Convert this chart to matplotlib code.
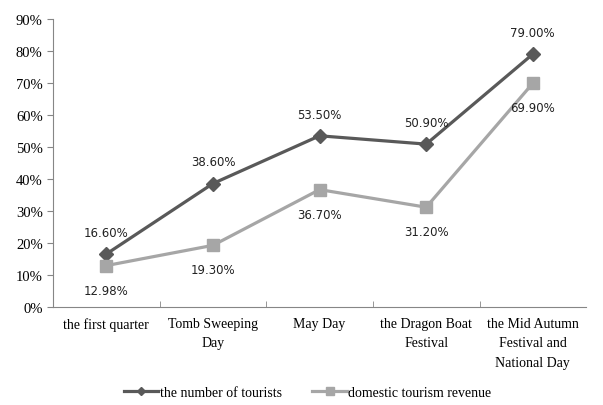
import matplotlib.pyplot as plt
import numpy as np

categories = ["the first quarter", "Tomb Sweeping\nDay", "May Day",
              "the Dragon Boat\nFestival", "the Mid Autumn\nFestival and\nNational Day"]
tourists = [16.60, 38.60, 53.50, 50.90, 79.00]
revenue = [12.98, 19.30, 36.70, 31.20, 69.90]
yticks = [0, 10, 20, 30, 40, 50, 60, 70, 80, 90]

serif = "Liberation Serif"
sans = "DejaVu Sans"
axis_col = "#868686"

fig = plt.figure(figsize=(6.03, 4.06), dpi=100)
ax = fig.add_axes([0.088, 0.241, 0.884, 0.710])

x = np.arange(len(categories))
ax.plot(x, tourists, color="#595959", lw=2.3, marker="D", markersize=7,
        label="the number of tourists")
ax.plot(x, revenue, color="#A6A6A6", lw=2.3, marker="s", markersize=9,
        label="domestic tourism revenue")

for xi, v in zip(x, tourists):
    ax.annotate(f"{v:.2f}%", (xi, v), xytext=(0, 11), textcoords="offset points",
                ha="center", va="bottom", fontsize=8.5, family=sans, color="#222222")
for xi, v in zip(x, revenue):
    ax.annotate(f"{v:.2f}%", (xi, v), xytext=(0, -13), textcoords="offset points",
                ha="center", va="top", fontsize=8.5, family=sans, color="#222222")

ax.set_xlim(-0.5, 4.5)
ax.set_ylim(0, 90)
ax.set_yticks(yticks)
ax.set_yticklabels([f"{t}%" for t in yticks], family=serif, fontsize=10.5)
ax.set_xticks(x)
ax.set_xticklabels(categories, family=serif, fontsize=10, linespacing=1.65)
ax.tick_params(axis="x", length=0, pad=7)
ax.set_xticks(np.arange(0.5, 4.5, 1), minor=True)
ax.tick_params(axis="x", which="minor", direction="in", length=4, color=axis_col)
ax.tick_params(axis="y", length=4, color=axis_col)

for s in ["top", "right"]:
    ax.spines[s].set_visible(False)
for s in ["left", "bottom"]:
    ax.spines[s].set_color(axis_col)

leg = fig.legend(loc="lower center", bbox_to_anchor=(0.51, -0.015), ncol=2,
                 frameon=False, prop={"family": serif, "size": 10},
                 handlelength=2.5, columnspacing=2.2, handletextpad=0.1,
                 markerscale=0.6)

fig.savefig("out.png", dpi=100)
